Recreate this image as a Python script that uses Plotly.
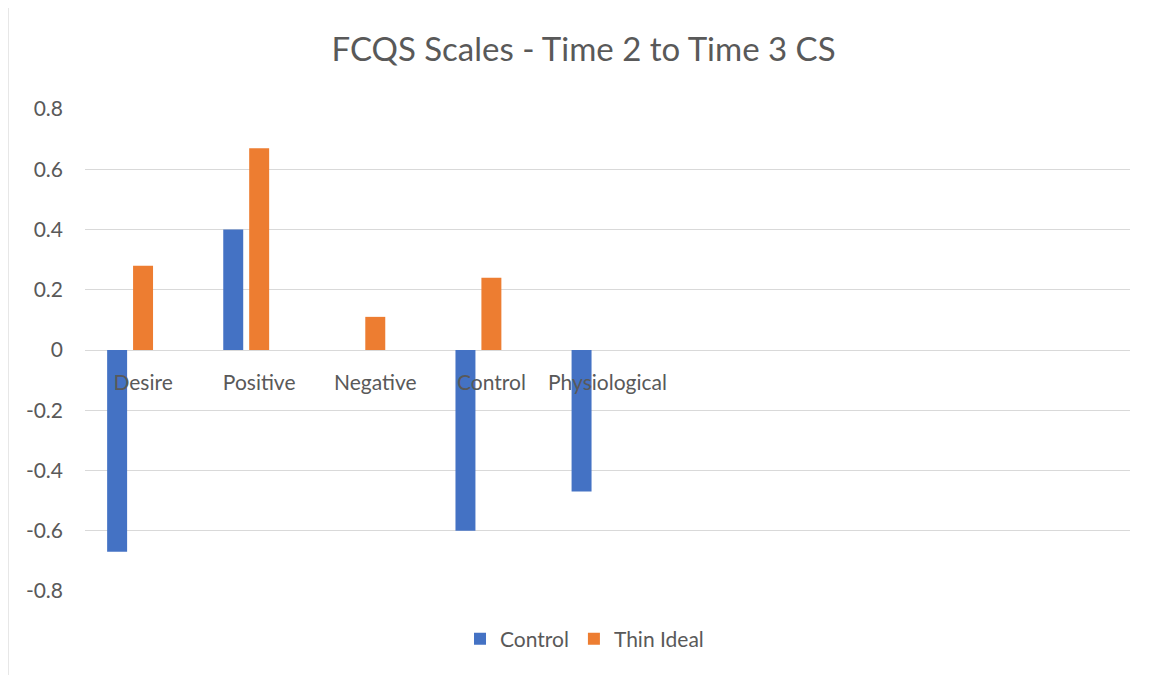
import plotly.graph_objects as go

categories = ["Desire", "Positive", "Negative", "Control", "Physiological", "", "", "", ""]
control = [-0.67, 0.40, 0.0, -0.60, -0.47, None, None, None, None]
thin_ideal = [0.28, 0.67, 0.11, 0.24, None, None, None, None, None]
empty_series = [None] * 9
y_ticks = [-0.8, -0.6, -0.4, -0.2, 0, 0.2, 0.4, 0.6, 0.8]
y_tick_labels = ["-0.8", "-0.6", "-0.4", "-0.2", "0", "0.2", "0.4", "0.6", "0.8"]

x = list(range(len(categories)))
FONT = "Lato, Open Sans, sans-serif"
TXT = "#595959"

fig = go.Figure()
fig.add_trace(go.Bar(x=x, y=control, name="Control", marker=dict(color="#4472C4", line=dict(width=0))))
fig.add_trace(go.Bar(x=x, y=thin_ideal, name="Thin Ideal", marker=dict(color="#ED7D31", line=dict(width=0))))
fig.add_trace(go.Bar(x=x, y=empty_series, name="", showlegend=False, marker=dict(color="#A5A5A5")))

fig.update_layout(
    width=1151, height=675,
    margin=dict(l=77, r=29, t=101, b=92),
    paper_bgcolor="white", plot_bgcolor="white",
    barmode="group", bargap=0.33, bargroupgap=0.23,
    font=dict(family=FONT, color=TXT, size=19),
    title=dict(text="FCQS Scales - Time 2 to Time 3 CS", x=0.5, xanchor="center",
               y=0.938, yanchor="middle", font=dict(size=33, color=TXT, family=FONT)),
    legend=dict(orientation="h", x=0.478, xanchor="center", y=-0.1, yanchor="middle",
                font=dict(size=21, color=TXT), itemwidth=30, traceorder="normal"),
    showlegend=True,
)
fig.update_xaxes(
    range=[-0.5, len(categories) - 0.5], tickmode="array", tickvals=x, ticktext=categories,
    showgrid=False, showline=False, zeroline=False, ticks="",
    anchor="free", position=0.5, ticklabelstandoff=18,
    tickfont=dict(size=21, color=TXT),
)
fig.update_yaxes(
    range=[-0.8, 0.8], tickmode="array", tickvals=y_ticks, ticktext=y_tick_labels,
    showgrid=True, gridcolor="#D9D9D9", gridwidth=1.3, zeroline=True, zerolinecolor="#D9D9D9",
    zerolinewidth=1.3, showline=False, ticks="", ticklabelstandoff=21,
    tickfont=dict(size=21, color=TXT),
)
fig.add_shape(type="rect", xref="paper", yref="paper", x0=-0.0737, x1=1.1, y0=-0.3, y1=1.2158,
              line=dict(color="#D9D9D9", width=1.3), fillcolor="rgba(0,0,0,0)", layer="below")

fig.write_html("out.html")
